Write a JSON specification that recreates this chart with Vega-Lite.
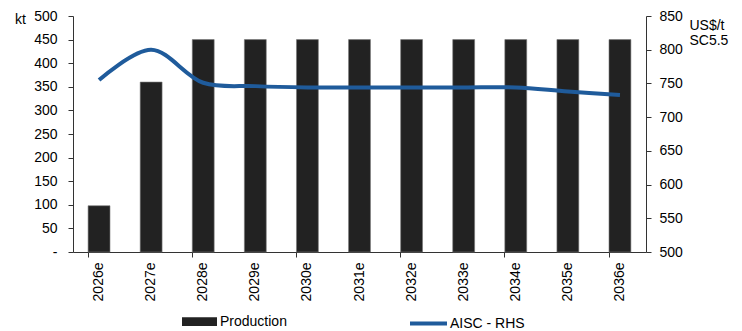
{
  "$schema": "https://vega.github.io/schema/vega-lite/v6.json",
  "width": 573,
  "height": 236,
  "autosize": {"type": "none"},
  "padding": {"left": 73, "top": 16, "right": 96, "bottom": 79},
  "background": "white",
  "config": {
    "view": {"stroke": null},
    "font": "Liberation Sans",
    "axis": {"labelFont": "Liberation Sans", "labelFontSize": 14, "labelColor": "#000", "titleFont": "Liberation Sans", "titleFontSize": 14, "titleFontWeight": "normal", "titleColor": "#000", "domainColor": "#333", "tickColor": "#333", "grid": false},
    "legend": {"labelFont": "Liberation Sans", "labelFontSize": 14, "labelColor": "#000"}
  },
  "data": {
    "values": [
      {"year": "2026e", "production": 98, "aisc": 755},
      {"year": "2027e", "production": 360, "aisc": 800},
      {"year": "2028e", "production": 450, "aisc": 751},
      {"year": "2029e", "production": 450, "aisc": 746},
      {"year": "2030e", "production": 450, "aisc": 744},
      {"year": "2031e", "production": 450, "aisc": 744},
      {"year": "2032e", "production": 450, "aisc": 744},
      {"year": "2033e", "production": 450, "aisc": 744},
      {"year": "2034e", "production": 450, "aisc": 744},
      {"year": "2035e", "production": 450, "aisc": 738},
      {"year": "2036e", "production": 450, "aisc": 733}
    ]
  },
  "encoding": {
    "x": {
      "field": "year",
      "type": "nominal",
      "sort": null,
      "scale": {"paddingInner": 0.58, "paddingOuter": 0.29},
      "axis": {
        "title": null,
        "labelAngle": -90,
        "labelAlign": "right",
        "labelBaseline": "middle",
        "labelPadding": 5,
        "bandPosition": 0,
        "tickSize": 5,
        "tickOpacity": {"condition": {"test": "indexof(['2026e','2028e','2030e','2032e','2034e','2036e'], datum.value) >= 0", "value": 1}, "value": 0}
      }
    }
  },
  "layer": [
    {
      "mark": {"type": "bar", "color": "#222222", "stroke": "#777777", "strokeWidth": 0.6},
      "encoding": {
        "y": {
          "field": "production",
          "type": "quantitative",
          "scale": {"domain": [0, 500]},
          "axis": {
            "title": "kt",
            "titleAngle": 0,
            "titleAlign": "center",
            "titleBaseline": "middle",
            "titleX": -53,
            "titleY": 3,
            "values": [0, 50, 100, 150, 200, 250, 300, 350, 400, 450, 500],
            "labelExpr": "datum.value == 0 ? '-' : datum.label",
            "tickSize": 5,
            "labelPadding": 11
          }
        },
        "color": {
          "datum": "Production",
          "type": "nominal",
          "scale": {"range": ["#222222"]},
          "legend": {
            "title": null,
            "orient": "none",
            "legendX": 109,
            "legendY": 288,
            "padding": 0,
            "symbolType": "M-1,-0.25H1V0.25H-1Z",
            "symbolSize": 1225,
            "symbolStrokeWidth": 0,
            "labelOffset": 3
          }
        }
      }
    },
    {
      "mark": {"type": "line", "strokeWidth": 4, "interpolate": "catmull-rom"},
      "encoding": {
        "y": {
          "field": "aisc",
          "type": "quantitative",
          "scale": {"domain": [500, 850], "zero": false},
          "axis": {
            "orient": "right",
            "title": ["US$/t", "SC5.5"],
            "titleAngle": 0,
            "titleAlign": "left",
            "titleBaseline": "top",
            "titleX": 43,
            "titleY": 2,
            "titleLineHeight": 15,
            "values": [500, 550, 600, 650, 700, 750, 800, 850],
            "tickSize": 5,
            "labelPadding": 8
          }
        },
        "stroke": {
          "datum": "AISC - RHS",
          "type": "nominal",
          "scale": {"range": ["#1f5b9b"]},
          "legend": {
            "title": null,
            "orient": "none",
            "legendX": 335,
            "legendY": 287,
            "padding": 0,
            "symbolType": "stroke",
            "symbolSize": 1369,
            "symbolStrokeWidth": 4,
            "labelOffset": 1
          }
        }
      }
    }
  ],
  "resolve": {"scale": {"y": "independent"}}
}
